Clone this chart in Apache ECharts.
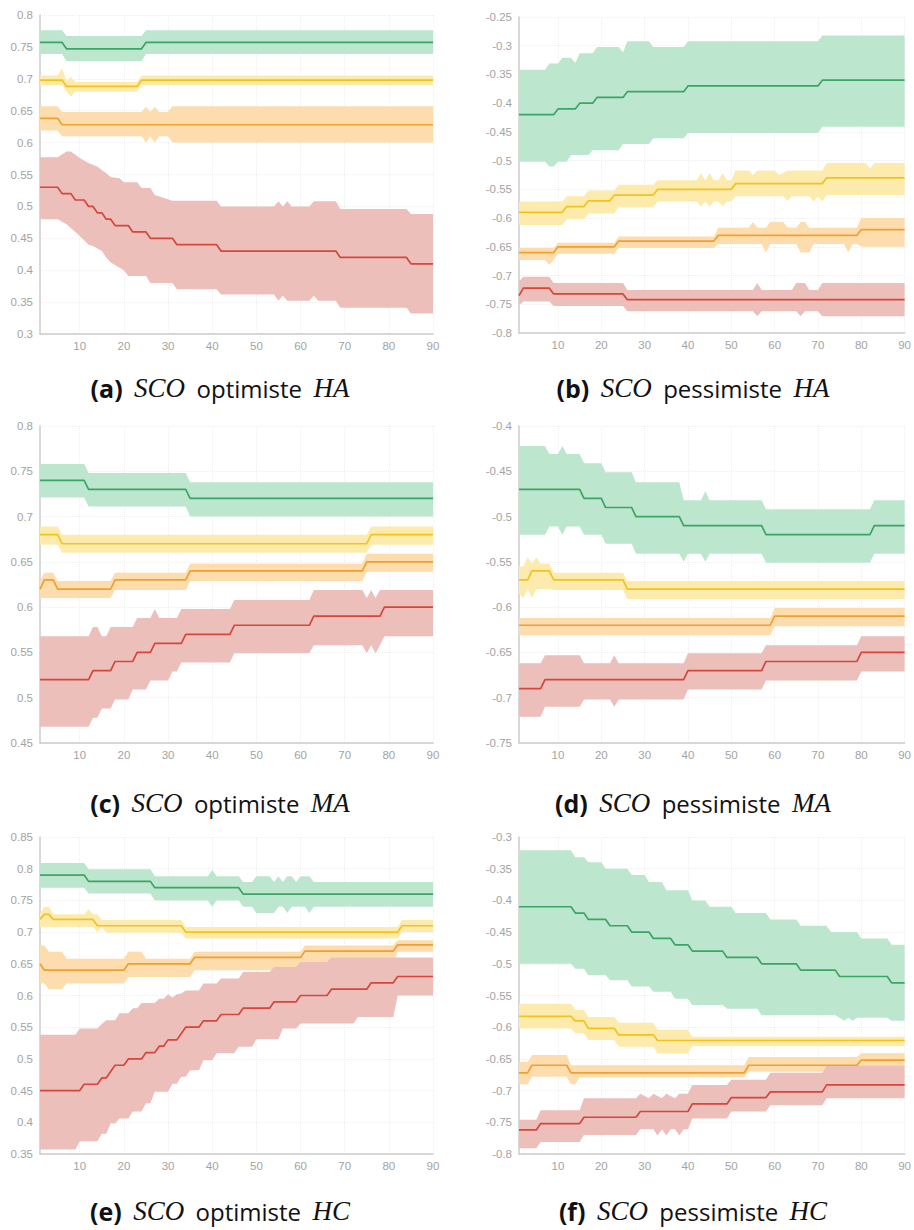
<!DOCTYPE html>
<html>
<head>
<meta charset="utf-8">
<script src="https://cdn.jsdelivr.net/npm/echarts@6/dist/echarts.min.js"></script>
<style>
html,body{margin:0;padding:0;background:#fff;}
#c{width:914px;height:1230px;}
</style>
</head>
<body>
<div id="c"></div>
<script>
// ---------- tick labels ----------
const xTicks = [10,20,30,40,50,60,70,80,90];

// ---------- captions ----------
const captions = [
  ['(a)','SCO','optimiste','HA'],
  ['(b)','SCO','pessimiste','HA'],
  ['(c)','SCO','optimiste','MA'],
  ['(d)','SCO','pessimiste','MA'],
  ['(e)','SCO','optimiste','HC'],
  ['(f)','SCO','pessimiste','HC']
];

// ---------- y ranges per panel ----------
const yMin = [0.3, -0.8, 0.45, -0.75, 0.35, -0.8];
const yMax = [0.8, -0.25, 0.8, -0.4, 0.85, -0.3];

// ---------- panel (a) ----------
const aGreenMid = [[1,.757],[6,.757],[7,.747],[24,.747],[25,.757],[90,.757]];
const aGreenHi  = [[1,.776],[6,.776],[7,.767],[24,.767],[25,.776],[90,.776]];
const aGreenLo  = [[1,.739],[6,.739],[7,.728],[24,.728],[25,.739],[90,.739]];
const aYellowMid = [[1,.698],[6,.698],[7,.688],[23,.688],[24,.698],[90,.698]];
const aYellowHi  = [[1,.705],[5,.705],[6,.716],[7,.697],[8,.703],[9,.695],[23,.695],[24,.705],[90,.705]];
const aYellowLo  = [[1,.690],[6,.690],[7,.680],[8,.672],[9,.680],[23,.680],[24,.690],[90,.690]];
const aOrangeMid = [[1,.638],[5,.638],[6,.628],[90,.628]];
const aOrangeHi  = [[1,.657],[5,.657],[6,.648],[24,.648],[25,.656],[26,.648],[27,.656],[28,.648],[30,.648],[31,.657],[90,.657]];
const aOrangeLo  = [[1,.619],[5,.619],[6,.610],[24,.610],[25,.600],[26,.610],[27,.600],[28,.610],[30,.610],[31,.600],[90,.600]];
const aRedMid = [[1,.53],[5,.53],[6,.52],[8,.52],[9,.51],[11,.51],[12,.50],[13,.50],[14,.49],[15,.49],[16,.48],[17,.48],[18,.47],[21,.47],[22,.46],[25,.46],[26,.45],[31,.45],[32,.44],[41,.44],[42,.43],[68,.43],[69,.42],[84,.42],[85,.41],[90,.41]];
const aRedHi  = [[1,.577],[5,.577],[7,.586],[8,.586],[10,.576],[12,.568],[14,.562],[15,.557],[16,.552],[17,.546],[19,.544],[20,.538],[23,.538],[24,.529],[26,.529],[27,.518],[31,.509],[41,.509],[42,.50],[54,.50],[55,.508],[56,.50],[57,.508],[58,.50],[62,.50],[63,.508],[68,.508],[69,.496],[84,.496],[85,.488],[90,.488]];
const aRedLo  = [[1,.48],[5,.48],[7,.472],[9,.46],[11,.447],[12,.44],[13,.438],[15,.43],[16,.42],[17,.412],[20,.40],[21,.391],[25,.391],[26,.38],[31,.38],[32,.37],[41,.37],[42,.362],[54,.362],[55,.352],[56,.36],[57,.352],[62,.352],[63,.36],[64,.352],[68,.352],[69,.341],[84,.341],[85,.332],[90,.332]];

// ---------- panel (b) ----------
const bGreenMid = [[1,-.42],[9,-.42],[10,-.41],[14,-.41],[15,-.40],[18,-.40],[19,-.39],[25,-.39],[26,-.38],[39,-.38],[40,-.37],[70,-.37],[71,-.36],[90,-.36]];
const bGreenHi  = [[1,-.342],[7,-.342],[8,-.331],[10,-.331],[11,-.321],[13,-.321],[14,-.33],[15,-.313],[18,-.313],[19,-.302],[24,-.302],[25,-.312],[26,-.292],[31,-.292],[32,-.302],[39,-.302],[40,-.292],[70,-.292],[71,-.282],[90,-.282]];
const bGreenLo  = [[1,-.502],[7,-.502],[8,-.51],[9,-.51],[10,-.502],[12,-.502],[13,-.49],[17,-.49],[18,-.482],[24,-.482],[25,-.471],[31,-.471],[32,-.461],[39,-.461],[40,-.452],[70,-.452],[71,-.441],[90,-.441]];
const bYellowMid = [[1,-.59],[11,-.59],[12,-.58],[16,-.58],[17,-.57],[22,-.57],[23,-.56],[32,-.56],[33,-.55],[50,-.55],[51,-.54],[71,-.54],[72,-.53],[90,-.53]];
const bYellowHi  = [[1,-.571],[11,-.571],[12,-.562],[16,-.562],[17,-.552],[23,-.552],[24,-.542],[32,-.542],[33,-.534],[42,-.534],[43,-.522],[44,-.534],[45,-.522],[46,-.534],[47,-.534],[48,-.522],[49,-.534],[50,-.534],[51,-.517],[54,-.517],[55,-.525],[56,-.517],[60,-.517],[61,-.525],[63,-.517],[71,-.517],[72,-.504],[81,-.504],[82,-.514],[83,-.504],[90,-.504]];
const bYellowLo  = [[1,-.612],[11,-.612],[12,-.602],[16,-.602],[17,-.592],[23,-.592],[24,-.581],[32,-.581],[33,-.571],[42,-.571],[43,-.58],[44,-.571],[45,-.58],[46,-.571],[47,-.571],[48,-.58],[49,-.571],[50,-.571],[51,-.562],[62,-.562],[63,-.57],[64,-.562],[68,-.562],[69,-.571],[70,-.562],[71,-.571],[72,-.56],[90,-.56]];
const bOrangeMid = [[1,-.66],[9,-.66],[10,-.65],[23,-.65],[24,-.64],[46,-.64],[47,-.63],[79,-.63],[80,-.62],[90,-.62]];
const bOrangeHi  = [[1,-.652],[9,-.652],[10,-.643],[23,-.643],[24,-.632],[46,-.632],[47,-.617],[54,-.617],[55,-.607],[56,-.617],[58,-.617],[59,-.607],[62,-.607],[63,-.617],[65,-.617],[66,-.607],[67,-.607],[68,-.617],[79,-.617],[80,-.60],[90,-.60]];
const bOrangeLo  = [[1,-.673],[7,-.673],[8,-.681],[9,-.673],[10,-.662],[23,-.662],[24,-.652],[46,-.652],[47,-.645],[57,-.645],[58,-.66],[59,-.645],[65,-.645],[66,-.66],[68,-.66],[69,-.645],[76,-.645],[77,-.66],[78,-.645],[79,-.645],[80,-.65],[90,-.65]];
const bRedMid = [[1,-.735],[2,-.722],[8,-.722],[9,-.732],[25,-.732],[26,-.742],[90,-.742]];
const bRedHi  = [[1,-.71],[2,-.702],[8,-.702],[9,-.713],[25,-.713],[26,-.725],[55,-.725],[56,-.713],[57,-.725],[64,-.725],[65,-.713],[67,-.713],[68,-.725],[70,-.725],[71,-.713],[90,-.713]];
const bRedLo  = [[1,-.752],[2,-.745],[8,-.745],[9,-.753],[25,-.753],[26,-.762],[55,-.762],[56,-.771],[57,-.762],[65,-.762],[66,-.771],[67,-.762],[70,-.762],[71,-.771],[90,-.771]];

// ---------- panel (c) ----------
const cGreenMid = [[1,.74],[11,.74],[12,.73],[34,.73],[35,.72],[90,.72]];
const cGreenHi  = [[1,.758],[11,.758],[12,.748],[34,.748],[35,.738],[90,.738]];
const cGreenLo  = [[1,.721],[11,.721],[12,.711],[34,.711],[35,.70],[90,.70]];
const cYellowMid = [[1,.68],[5,.68],[6,.67],[75,.67],[76,.68],[90,.68]];
const cYellowHi  = [[1,.689],[5,.689],[6,.68],[75,.68],[76,.689],[90,.689]];
const cYellowLo  = [[1,.669],[5,.669],[6,.66],[75,.66],[76,.669],[90,.669]];
const cOrangeMid = [[1,.62],[2,.63],[4,.63],[5,.62],[17,.62],[18,.63],[34,.63],[35,.64],[74,.64],[75,.65],[90,.65]];
const cOrangeHi  = [[1,.629],[2,.638],[4,.638],[5,.629],[17,.629],[18,.638],[34,.638],[35,.648],[74,.648],[75,.659],[90,.659]];
const cOrangeLo  = [[1,.61],[17,.61],[18,.619],[34,.619],[35,.629],[74,.629],[75,.639],[90,.639]];
const cRedMid = [[1,.52],[12,.52],[13,.53],[17,.53],[18,.54],[22,.54],[23,.55],[26,.55],[27,.56],[33,.56],[34,.57],[44,.57],[45,.58],[62,.58],[63,.59],[78,.59],[79,.60],[90,.60]];
const cRedHi  = [[1,.568],[12,.568],[13,.578],[14,.578],[15,.568],[16,.568],[17,.578],[22,.578],[23,.588],[26,.588],[27,.598],[28,.588],[32,.588],[33,.598],[44,.598],[45,.608],[62,.608],[63,.619],[74,.619],[75,.61],[76,.619],[77,.61],[78,.619],[90,.619]];
const cRedLo  = [[1,.468],[12,.468],[13,.478],[14,.478],[15,.488],[17,.488],[18,.498],[21,.498],[22,.509],[25,.509],[26,.519],[30,.519],[31,.529],[32,.529],[33,.539],[44,.539],[45,.549],[62,.549],[63,.558],[74,.558],[75,.549],[76,.558],[77,.549],[78,.558],[79,.568],[90,.568]];

// ---------- panel (d) ----------
const dGreenMid = [[1,-.47],[15,-.47],[16,-.48],[20,-.48],[21,-.49],[27,-.49],[28,-.50],[38,-.50],[39,-.51],[57,-.51],[58,-.52],[82,-.52],[83,-.51],[90,-.51]];
const dGreenHi  = [[1,-.422],[7,-.422],[8,-.431],[10,-.431],[11,-.422],[12,-.431],[15,-.431],[16,-.441],[20,-.441],[21,-.451],[27,-.451],[28,-.462],[38,-.462],[39,-.482],[43,-.482],[44,-.472],[45,-.482],[57,-.482],[58,-.492],[82,-.492],[83,-.482],[90,-.482]];
const dGreenLo  = [[1,-.52],[7,-.52],[8,-.511],[10,-.511],[11,-.52],[12,-.511],[15,-.511],[16,-.52],[20,-.52],[21,-.53],[27,-.53],[28,-.541],[38,-.541],[39,-.55],[40,-.541],[43,-.541],[44,-.55],[45,-.541],[57,-.541],[58,-.551],[82,-.551],[83,-.541],[90,-.541]];
const dYellowMid = [[1,-.57],[3,-.57],[4,-.56],[8,-.56],[9,-.57],[25,-.57],[26,-.58],[90,-.58]];
const dYellowHi  = [[1,-.555],[2,-.555],[3,-.545],[4,-.552],[5,-.545],[6,-.552],[8,-.552],[9,-.562],[25,-.562],[26,-.571],[90,-.571]];
const dYellowLo  = [[1,-.585],[2,-.59],[3,-.58],[4,-.59],[5,-.58],[8,-.58],[9,-.581],[25,-.581],[26,-.591],[90,-.591]];
const dOrangeMid = [[1,-.62],[59,-.62],[60,-.61],[90,-.61]];
const dOrangeHi  = [[1,-.612],[59,-.612],[60,-.601],[90,-.601]];
const dOrangeLo  = [[1,-.631],[59,-.631],[60,-.621],[90,-.621]];
const dRedMid = [[1,-.69],[6,-.69],[7,-.68],[39,-.68],[40,-.67],[57,-.67],[58,-.66],[79,-.66],[80,-.65],[90,-.65]];
const dRedHi  = [[1,-.662],[6,-.662],[7,-.653],[15,-.653],[16,-.662],[22,-.662],[23,-.653],[24,-.662],[39,-.662],[40,-.651],[57,-.651],[58,-.642],[79,-.642],[80,-.632],[90,-.632]];
const dRedLo  = [[1,-.721],[6,-.721],[7,-.71],[15,-.71],[16,-.702],[22,-.702],[23,-.71],[24,-.702],[39,-.702],[40,-.691],[57,-.691],[58,-.681],[79,-.681],[80,-.671],[90,-.671]];

// ---------- panel (e) ----------
const eGreenMid = [[1,.79],[11,.79],[12,.78],[26,.78],[27,.77],[46,.77],[47,.76],[90,.76]];
const eGreenHi  = [[1,.809],[11,.809],[12,.799],[26,.799],[27,.788],[39,.788],[40,.798],[41,.788],[46,.788],[47,.779],[49,.779],[50,.788],[53,.788],[54,.779],[55,.788],[56,.779],[57,.788],[58,.788],[59,.779],[60,.788],[62,.788],[63,.779],[90,.779]];
const eGreenLo  = [[1,.77],[11,.77],[12,.761],[26,.761],[27,.75],[39,.75],[40,.74],[41,.75],[46,.75],[47,.74],[49,.74],[50,.73],[54,.73],[55,.74],[56,.74],[57,.73],[58,.74],[61,.74],[62,.73],[63,.74],[90,.74]];
const eYellowMid = [[1,.72],[2,.728],[3,.728],[4,.72],[13,.72],[14,.71],[33,.71],[34,.70],[82,.70],[83,.71],[90,.71]];
const eYellowHi  = [[1,.73],[2,.74],[3,.74],[4,.728],[11,.728],[12,.736],[13,.728],[14,.728],[15,.719],[33,.719],[34,.708],[82,.708],[83,.719],[90,.719]];
const eYellowLo  = [[1,.708],[13,.708],[14,.70],[15,.708],[16,.699],[33,.699],[34,.69],[82,.69],[83,.70],[90,.70]];
const eOrangeMid = [[1,.65],[2,.64],[20,.64],[21,.65],[35,.65],[36,.66],[60,.66],[61,.67],[81,.67],[82,.68],[90,.68]];
const eOrangeHi  = [[1,.679],[2,.679],[3,.669],[6,.669],[7,.658],[20,.658],[21,.669],[24,.669],[25,.658],[35,.658],[36,.669],[60,.669],[61,.679],[81,.679],[82,.687],[90,.687]];
const eOrangeLo  = [[1,.619],[2,.619],[3,.61],[6,.61],[7,.619],[20,.619],[21,.629],[35,.629],[36,.64],[60,.64],[61,.65],[81,.65],[82,.669],[90,.669]];
const eRedMid = [[1,.45],[10,.45],[11,.46],[14,.46],[15,.47],[16,.47],[17,.48],[18,.49],[20,.49],[21,.50],[24,.50],[25,.51],[27,.51],[28,.52],[29,.52],[30,.53],[32,.53],[33,.54],[34,.55],[37,.55],[38,.56],[41,.56],[42,.57],[46,.57],[47,.58],[53,.58],[54,.59],[59,.59],[60,.60],[66,.60],[67,.61],[75,.61],[76,.62],[81,.62],[82,.63],[90,.63]];
const eRedHi  = [[1,.538],[9,.538],[10,.548],[14,.548],[15,.555],[16,.561],[18,.561],[19,.572],[21,.572],[22,.58],[23,.58],[24,.588],[27,.588],[28,.595],[29,.595],[30,.602],[31,.597],[32,.602],[33,.603],[34,.608],[37,.608],[38,.619],[41,.619],[42,.627],[46,.627],[47,.637],[53,.637],[54,.645],[59,.645],[60,.653],[66,.653],[67,.66],[90,.66]];
const eRedLo  = [[1,.357],[9,.357],[10,.37],[14,.37],[15,.382],[16,.382],[17,.398],[18,.398],[19,.406],[21,.406],[22,.417],[24,.417],[25,.43],[26,.43],[27,.448],[30,.448],[31,.461],[32,.461],[33,.472],[34,.472],[35,.482],[37,.482],[38,.498],[40,.498],[41,.509],[45,.509],[46,.519],[49,.519],[50,.531],[55,.531],[56,.548],[59,.548],[60,.556],[72,.556],[73,.566],[81,.566],[82,.60],[90,.60]];

// ---------- panel (f) ----------
const fGreenMid = [[1,-.41],[13,-.41],[14,-.42],[16,-.42],[17,-.43],[21,-.43],[22,-.44],[26,-.44],[27,-.45],[31,-.45],[32,-.46],[36,-.46],[37,-.47],[40,-.47],[41,-.48],[48,-.48],[49,-.49],[56,-.49],[57,-.50],[65,-.50],[66,-.51],[74,-.51],[75,-.52],[86,-.52],[87,-.53],[90,-.53]];
const fGreenHi  = [[1,-.321],[13,-.321],[14,-.332],[16,-.332],[17,-.34],[20,-.34],[21,-.35],[26,-.35],[27,-.36],[30,-.36],[31,-.371],[34,-.371],[35,-.384],[40,-.384],[41,-.40],[44,-.40],[45,-.41],[50,-.41],[51,-.42],[58,-.42],[59,-.43],[65,-.43],[66,-.44],[72,-.44],[73,-.45],[79,-.45],[80,-.46],[86,-.46],[87,-.47],[90,-.47]];
const fGreenLo  = [[1,-.50],[13,-.50],[14,-.508],[16,-.508],[17,-.518],[21,-.518],[22,-.526],[26,-.526],[27,-.536],[31,-.536],[32,-.544],[36,-.544],[37,-.555],[40,-.555],[41,-.565],[48,-.565],[49,-.571],[56,-.571],[57,-.581],[74,-.581],[75,-.585],[76,-.59],[77,-.585],[78,-.59],[79,-.585],[86,-.585],[87,-.59],[90,-.59]];
const fYellowMid = [[1,-.583],[13,-.583],[14,-.59],[16,-.59],[17,-.602],[23,-.602],[24,-.612],[32,-.612],[33,-.621],[90,-.621]];
const fYellowHi  = [[1,-.563],[13,-.563],[14,-.573],[16,-.573],[17,-.584],[23,-.584],[24,-.593],[32,-.593],[33,-.604],[40,-.604],[41,-.615],[90,-.615]];
const fYellowLo  = [[1,-.602],[13,-.602],[14,-.61],[16,-.61],[17,-.62],[23,-.62],[24,-.631],[32,-.631],[33,-.641],[40,-.641],[41,-.63],[90,-.63]];
const fOrangeMid = [[1,-.672],[3,-.672],[4,-.66],[12,-.66],[13,-.672],[53,-.672],[54,-.66],[79,-.66],[80,-.652],[90,-.652]];
const fOrangeHi  = [[1,-.655],[3,-.655],[4,-.644],[12,-.644],[13,-.66],[53,-.66],[54,-.647],[79,-.647],[80,-.641],[90,-.641]];
const fOrangeLo  = [[1,-.69],[3,-.69],[4,-.678],[12,-.678],[13,-.69],[14,-.69],[15,-.679],[53,-.679],[54,-.67],[79,-.67],[80,-.662],[90,-.662]];
const fRedMid = [[1,-.762],[5,-.762],[6,-.752],[15,-.752],[16,-.742],[28,-.742],[29,-.733],[40,-.733],[41,-.721],[49,-.721],[50,-.711],[58,-.711],[59,-.702],[71,-.702],[72,-.691],[90,-.691]];
const fRedHi  = [[1,-.746],[5,-.746],[6,-.731],[15,-.731],[16,-.712],[28,-.712],[29,-.705],[31,-.712],[32,-.705],[34,-.712],[35,-.705],[37,-.712],[38,-.705],[40,-.705],[41,-.691],[49,-.691],[50,-.683],[58,-.683],[59,-.672],[71,-.672],[72,-.661],[90,-.661]];
const fRedLo  = [[1,-.791],[5,-.791],[6,-.781],[15,-.781],[16,-.77],[28,-.77],[29,-.761],[32,-.761],[33,-.771],[34,-.761],[35,-.771],[36,-.761],[37,-.761],[38,-.771],[39,-.761],[40,-.761],[41,-.744],[49,-.744],[50,-.733],[58,-.733],[59,-.723],[71,-.723],[72,-.712],[90,-.712]];

// ---------- assembly ----------
const panelSeries = [
  [[aGreenMid,aGreenHi,aGreenLo],[aYellowMid,aYellowHi,aYellowLo],[aOrangeMid,aOrangeHi,aOrangeLo],[aRedMid,aRedHi,aRedLo]],
  [[bGreenMid,bGreenHi,bGreenLo],[bYellowMid,bYellowHi,bYellowLo],[bOrangeMid,bOrangeHi,bOrangeLo],[bRedMid,bRedHi,bRedLo]],
  [[cGreenMid,cGreenHi,cGreenLo],[cYellowMid,cYellowHi,cYellowLo],[cOrangeMid,cOrangeHi,cOrangeLo],[cRedMid,cRedHi,cRedLo]],
  [[dGreenMid,dGreenHi,dGreenLo],[dYellowMid,dYellowHi,dYellowLo],[dOrangeMid,dOrangeHi,dOrangeLo],[dRedMid,dRedHi,dRedLo]],
  [[eGreenMid,eGreenHi,eGreenLo],[eYellowMid,eYellowHi,eYellowLo],[eOrangeMid,eOrangeHi,eOrangeLo],[eRedMid,eRedHi,eRedLo]],
  [[fGreenMid,fGreenHi,fGreenLo],[fYellowMid,fYellowHi,fYellowLo],[fOrangeMid,fOrangeHi,fOrangeLo],[fRedMid,fRedHi,fRedLo]]
];

const LINE_COLORS = ['#3aa565','#f2c31f','#f0a030','#d6463b'];
const BAND_COLORS = ['#bde6cf','#fdebad','#fddcae','#ecbfbb'];

const grids = [
  {left:40,  top:15,  width:393, height:319},
  {left:519, top:17,  width:387, height:316},
  {left:40,  top:426, width:393, height:317},
  {left:519, top:426, width:387, height:317},
  {left:40,  top:837, width:393, height:317},
  {left:519, top:837, width:387, height:317}
];
const captionPos = [[220,388],[693,388],[220,803],[693,803],[220,1211],[693,1211]];

const labelFont = 'Liberation Sans, Arial, sans-serif';
const xAxes = [], yAxes = [], series = [], graphics = [];
grids.forEach((g, i) => {
  xAxes.push({
    type:'value', gridIndex:i, min:1, max:90,
    axisLine:{show:true, lineStyle:{color:'#cccccc', width:1.5}},
    axisTick:{show:false, customValues:xTicks},
    axisLabel:{customValues:xTicks, color:'#a3a3a3', fontSize:11.5, margin:6, fontFamily:labelFont},
    splitLine:{show:true, lineStyle:{color:'#eeeeee', type:'dotted', width:1}}
  });
  yAxes.push({
    type:'value', gridIndex:i, min:yMin[i], max:yMax[i], interval:0.05,
    axisLine:{show:true, lineStyle:{color:'#cccccc', width:1.5}},
    axisTick:{show:false},
    axisLabel:{color:'#a3a3a3', fontSize:11.5, margin:7, fontFamily:labelFont},
    splitLine:{show:true, lineStyle:{color:'#eeeeee', type:'dotted', width:1}}
  });
  panelSeries[i].forEach((trip, k) => {
    const hi = trip[1], lo = trip[2];
    series.push({
      type:'custom', xAxisIndex:i, yAxisIndex:i, z:1, silent:true, clip:true,
      data:[[hi[0][0], hi[0][1]]],
      renderItem:(params, api) => {
        const pts = hi.map(p => api.coord(p)).concat(lo.slice().reverse().map(p => api.coord(p)));
        return {type:'polygon', shape:{points:pts}, style:{fill:BAND_COLORS[k]}};
      }
    });
  });
  panelSeries[i].forEach((trip, k) => {
    series.push({
      type:'line', xAxisIndex:i, yAxisIndex:i, z:3, silent:true,
      data:trip[0], showSymbol:false, symbol:'none',
      lineStyle:{color:LINE_COLORS[k], width:1.7}
    });
  });
  const c = captions[i];
  graphics.push({
    type:'text', x:captionPos[i][0], y:captionPos[i][1],
    style:{
      text:'{b|' + c[0] + '}{s| }{i|' + c[1] + '}{s| }{r|' + c[2] + '}{s| }{i|' + c[3] + '}',
      align:'center', verticalAlign:'middle',
      fontFamily:'Open Sans', fontSize:24, fill:'#111',
      rich:{
        b:{fontFamily:'Open Sans', fontWeight:'bold', fontSize:25, fill:'#111'},
        i:{fontFamily:'Liberation Serif', fontStyle:'italic', fontSize:27, fill:'#111'},
        r:{fontFamily:'Open Sans', fontSize:24, fill:'#111'},
        s:{fontFamily:'Open Sans', fontSize:44, fill:'#111'}
      }
    }
  });
});

const chart = echarts.init(document.getElementById('c'), null, {renderer:'svg'});
chart.setOption({
  animation:false,
  backgroundColor:'#ffffff',
  grid:grids,
  xAxis:xAxes,
  yAxis:yAxes,
  series:series,
  graphic:graphics
});
</script>
</body>
</html>
